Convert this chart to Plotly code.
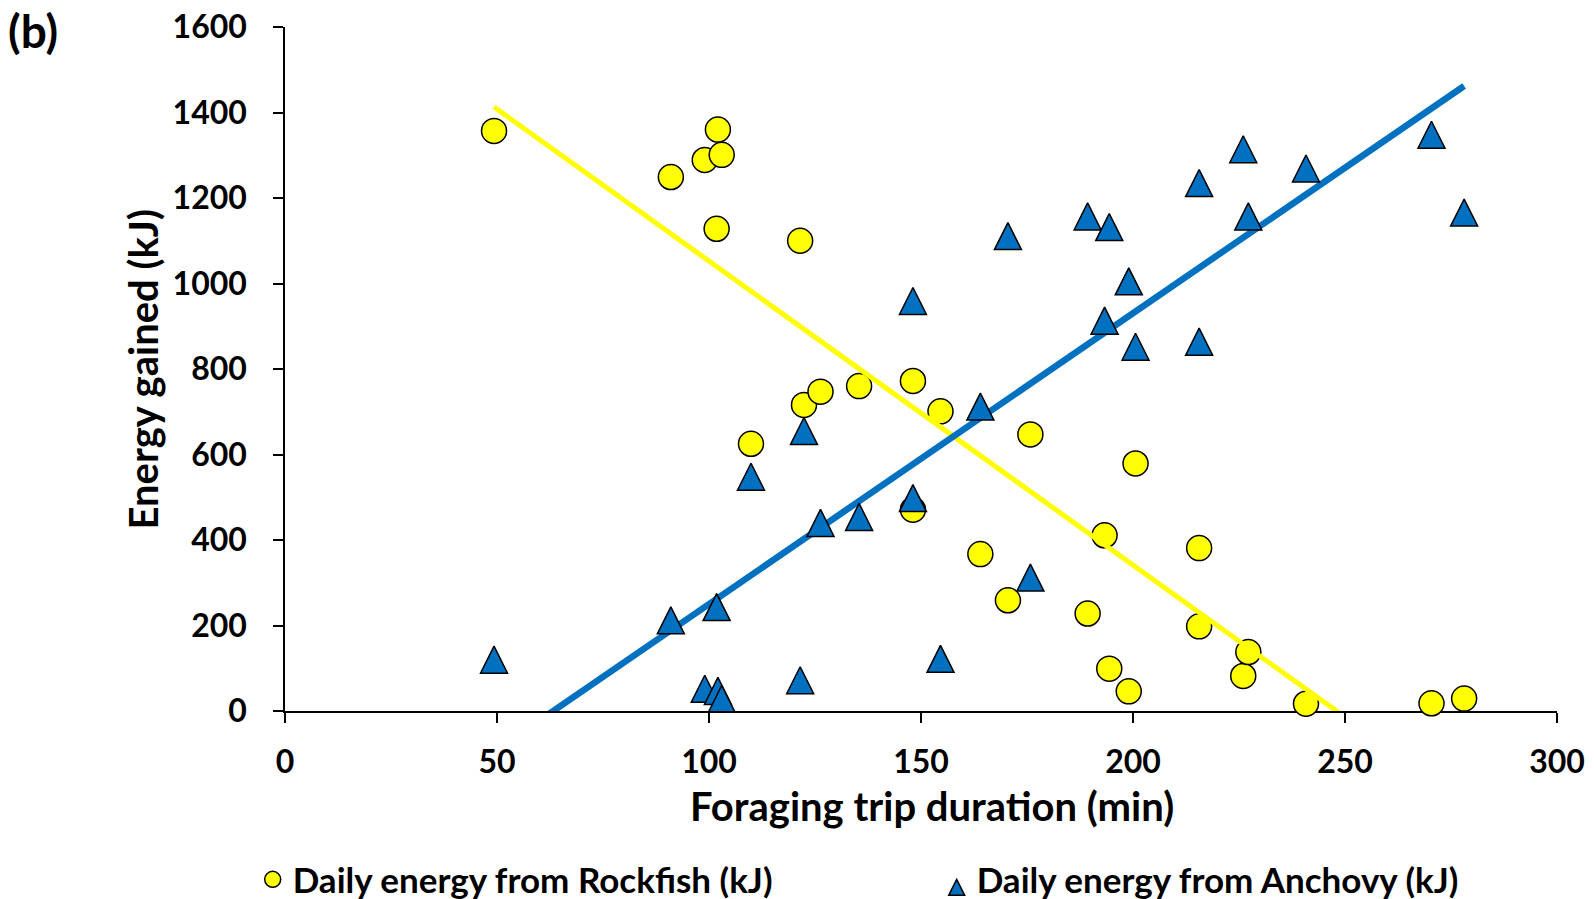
import plotly.graph_objects as go

# ---- data ----
trip_duration = [49.3, 91.0, 99.0, 101.8, 102.1, 103.0, 109.9, 121.5, 122.4, 126.3,
                 135.4, 148.1, 148.1, 154.6, 164.0, 170.5, 175.8, 189.3, 193.3, 194.4,
                 199.0, 200.6, 215.6, 215.6, 226.0, 227.2, 240.8, 270.4, 278.1]
rockfish_energy = [1357, 1249, 1289, 1128, 1360, 1301, 625, 1100, 716, 747,
                   760, 772, 471, 701, 367, 259, 647, 228, 411, 99,
                   46, 579, 381, 198, 82, 138, 17, 18, 29]
anchovy_energy = [120, 212, 52, 243, 47, 28, 548, 72, 655, 440,
                  454, 959, 498, 122, 712, 1111, 312, 1157, 913, 1132,
                  1005, 852, 1235, 864, 1314, 1157, 1269, 1348, 1166]

trend_x = [49.3, 278.1]
rockfish_trend = [1413, -214]
anchovy_trend = [-95, 1462]

x_ticks = [0, 50, 100, 150, 200, 250, 300]
y_ticks = [0, 200, 400, 600, 800, 1000, 1200, 1400, 1600]

names = ["Daily energy from Rockfish (kJ)", "Daily energy from Anchovy (kJ)"]
x_title = "Foraging trip duration (min)"
y_title = "Energy gained (kJ)"
panel_label = "(b)"

YELLOW = "#FFFF00"
BLUE = "#0070C0"

Y_RANGE = [0, 1600]
PLOT_H = 899 - 27 - 188          # plot-area height in px
TRI_SIZE = 27                    # triangle marker size (px)
# The "arrow-up" symbol is anchored at its apex; an overlaid, hidden y-axis with the
# same scale, shifted by half the marker height, centres each triangle on its value.
shift = (TRI_SIZE / 2) * (Y_RANGE[1] - Y_RANGE[0]) / PLOT_H

fig = go.Figure()
fig.add_trace(go.Scatter(
    x=trip_duration, y=rockfish_energy, mode="markers", name=names[0],
    marker=dict(symbol="circle", size=25, color=YELLOW, line=dict(color="black", width=1.5)),
    cliponaxis=False))
fig.add_trace(go.Scatter(
    x=trip_duration, y=anchovy_energy, mode="markers", name=names[1], yaxis="y2",
    marker=dict(symbol="arrow-up", size=TRI_SIZE, color=BLUE, line=dict(color="black", width=1.5)),
    cliponaxis=True))
fig.add_trace(go.Scatter(
    x=trend_x, y=rockfish_trend, mode="lines", showlegend=False,
    line=dict(color=YELLOW, width=5), hoverinfo="skip"))
fig.add_trace(go.Scatter(
    x=trend_x, y=anchovy_trend, mode="lines", showlegend=False,
    line=dict(color=BLUE, width=6.5), hoverinfo="skip"))

axis_common = dict(showgrid=False, zeroline=False, showline=True, linecolor="black",
                   linewidth=1.5, ticks="outside", ticklen=10, tickwidth=1.5,
                   tickcolor="black", layer="below traces", automargin=False,
                   tickfont=dict(family="Lato", size=32, color="black", weight="bold"))

fig.update_layout(
    xaxis=dict(range=[0, 300], tickvals=x_ticks, ticklabelstandoff=12, **axis_common),
    yaxis=dict(range=Y_RANGE, tickvals=y_ticks, ticklabelstandoff=20, **axis_common),
    yaxis2=dict(range=[Y_RANGE[0] - shift, Y_RANGE[1] - shift], overlaying="y",
                visible=False, showgrid=False, zeroline=False),
    width=1594, height=899,
    margin=dict(l=285, r=37, t=27, b=188, autoexpand=False),
    paper_bgcolor="white", plot_bgcolor="white",
    font=dict(family="Lato", size=32, color="black", weight="bold"),
    showlegend=True,
    legend=dict(orientation="h", x=-0.0254, xanchor="left", y=-0.2465, yanchor="middle",
                entrywidth=639, entrywidthmode="pixels",
                font=dict(family="Lato", size=35, color="black", weight="bold"),
                bgcolor="rgba(0,0,0,0)"),
    annotations=[
        dict(text=x_title, xref="paper", yref="paper", x=0.5087, y=-0.1396,
             xanchor="center", yanchor="middle", showarrow=False,
             font=dict(family="Lato", size=40, color="black", weight="bold")),
        dict(text=y_title, xref="paper", yref="paper", x=-0.112, y=0.5,
             xanchor="center", yanchor="middle", textangle=-90, showarrow=False,
             font=dict(family="Lato", size=40, color="black", weight="bold")),
        dict(text=panel_label, xref="paper", yref="paper", x=-0.2197, y=0.9954,
             xanchor="left", yanchor="middle", showarrow=False,
             font=dict(family="Lato", size=46, color="black", weight="bold")),
    ],
)

fig.write_html("out.html", config={"displayModeBar": False},
               post_script="document.body.style.margin='0';")
